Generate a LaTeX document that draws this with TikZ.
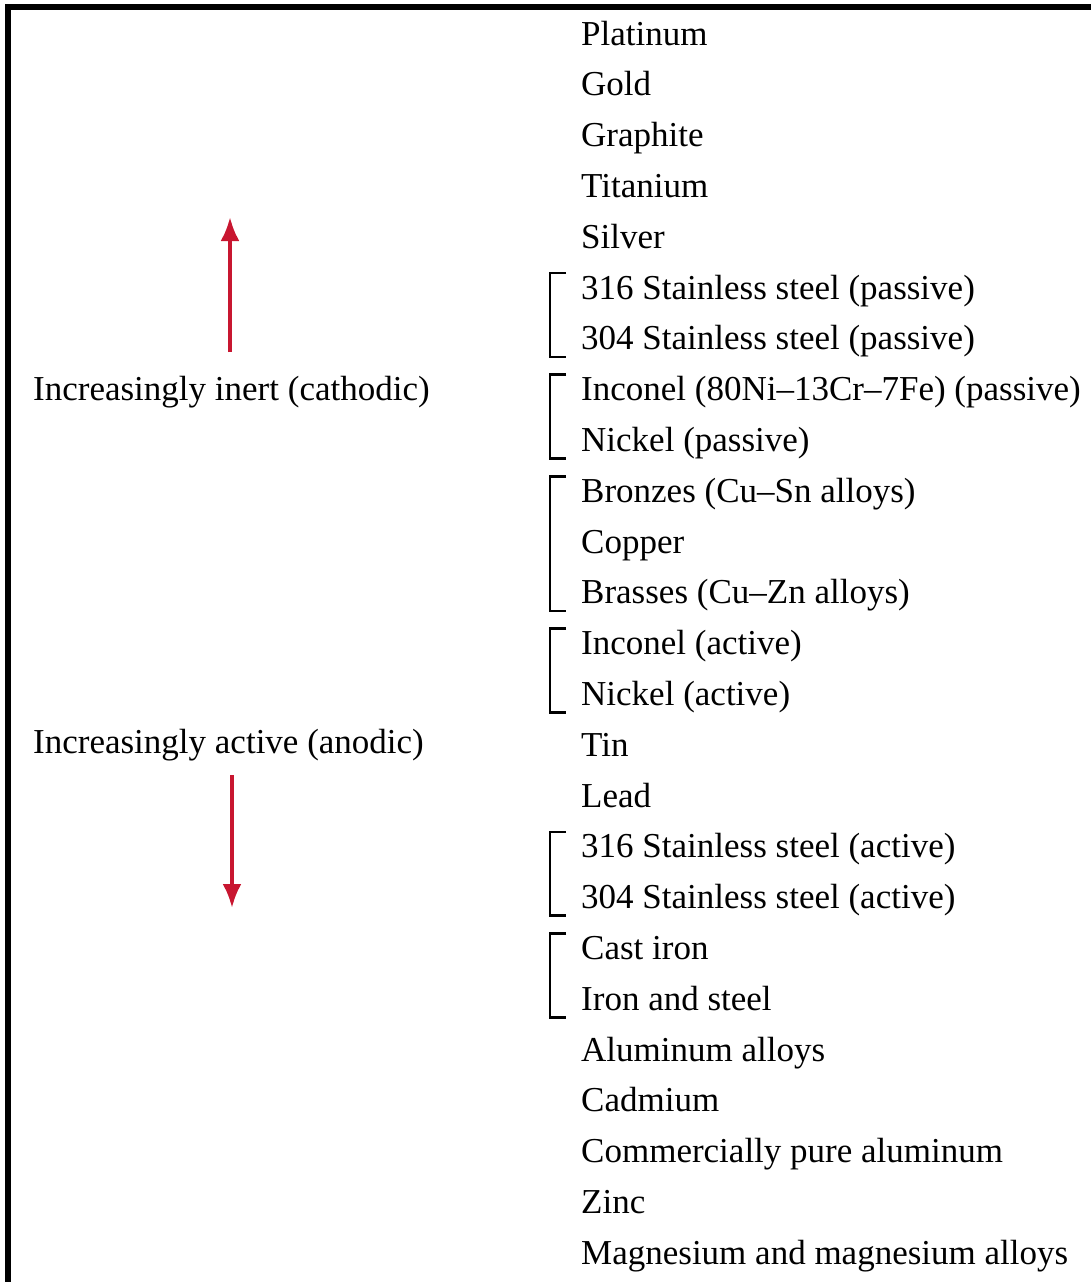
\documentclass[tikz,border=0pt]{standalone}
\usepackage{fontspec}
\setmainfont{Liberation Serif}
\newfontfamily\seriesfont{Liberation Serif}
\usepackage{xcolor}
\usepackage{tikz}
\usetikzlibrary{arrows.meta,positioning}

\definecolor{arrowred}{RGB}{200,22,48}

\tikzset{
	metal/.style={anchor=base west,inner sep=0pt,font=\seriesfont\fontsize{35}{42}\selectfont},
	brak/.style={line width=2.6pt,line join=miter},
	redarrow/.style={arrowred,line width=4pt,-{Latex[length=24pt,width=19pt]}}
}

\begin{document}
\begin{tikzpicture}[x=1pt,y=-1pt]
	\useasboundingbox (0,0) rectangle (1091,1282);
	\draw[line width=6pt,line join=miter] (7.5,1282)--(7.5,7)--(1091,7);
	% series, noble at the top
	\node[metal] (platinum) at (581,45) {Platinum};
	\node[metal] (gold) at (581,95.8) {Gold};
	\node[metal] (graphite) at (581,146.6) {Graphite};
	\node[metal] (titanium) at (581,197.4) {Titanium};
	\node[metal] (silver) at (581,248.2) {Silver};
	\node[metal] (ssA) at (581,299) {316 Stainless steel (passive)};
	\node[metal] (ssB) at (581,349.8) {304 Stainless steel (passive)};
	\node[metal] (inconelP) at (581,400.6) {Inconel (80Ni–13Cr–7Fe) (passive)};
	\node[metal] (nickelP) at (581,451.4) {Nickel (passive)};
	\node[metal] (bronzes) at (581,502.2) {Bronzes (Cu–Sn alloys)};
	\node[metal] (copper) at (581,553) {Copper};
	\node[metal] (brasses) at (581,603.8) {Brasses (Cu–Zn alloys)};
	\node[metal] (inconelA) at (581,654.6) {Inconel (active)};
	\node[metal] (nickelA) at (581,705.4) {Nickel (active)};
	\node[metal] (tin) at (581,756.2) {Tin};
	\node[metal] (lead) at (581,807) {Lead};
	\node[metal] (ssC) at (581,857.8) {316 Stainless steel (active)};
	\node[metal] (ssD) at (581,908.6) {304 Stainless steel (active)};
	\node[metal] (castiron) at (581,959.4) {Cast iron};
	\node[metal] (ironsteel) at (581,1010.2) {Iron and steel};
	\node[metal] (alalloys) at (581,1061) {Aluminum alloys};
	\node[metal] (cadmium) at (581,1111.8) {Cadmium};
	\node[metal] (pureal) at (581,1162.6) {Commercially pure aluminum};
	\node[metal] (zinc) at (581,1213.4) {Zinc};
	\node[metal] (magnesium) at (581,1264.2) {Magnesium and magnesium alloys};
	% brackets
	\draw[brak] (566,273)--(550,273)--(550,356.8)--(566,356.8);
	\draw[brak] (566,374.6)--(550,374.6)--(550,458.4)--(566,458.4);
	\draw[brak] (566,476.2)--(550,476.2)--(550,610.8)--(566,610.8);
	\draw[brak] (566,628.6)--(550,628.6)--(550,712.4)--(566,712.4);
	\draw[brak] (566,831.8)--(550,831.8)--(550,915.6)--(566,915.6);
	\draw[brak] (566,933.4)--(550,933.4)--(550,1017.2)--(566,1017.2);
	% direction labels and arrows
	\node[metal] (inert) at (33,400.6) {Increasingly inert (cathodic)};
	\node[metal] (active) at (33,753) {Increasingly active (anodic)};
	\coordinate (upfoot) at (230,352);
	\coordinate (uptip) at (230,217);
	\coordinate (downfoot) at (232,775);
	\coordinate (downtip) at (232,908);
	\draw[redarrow] (upfoot)--(uptip);
	\draw[redarrow] (downfoot)--(downtip);
\end{tikzpicture}
\end{document}
